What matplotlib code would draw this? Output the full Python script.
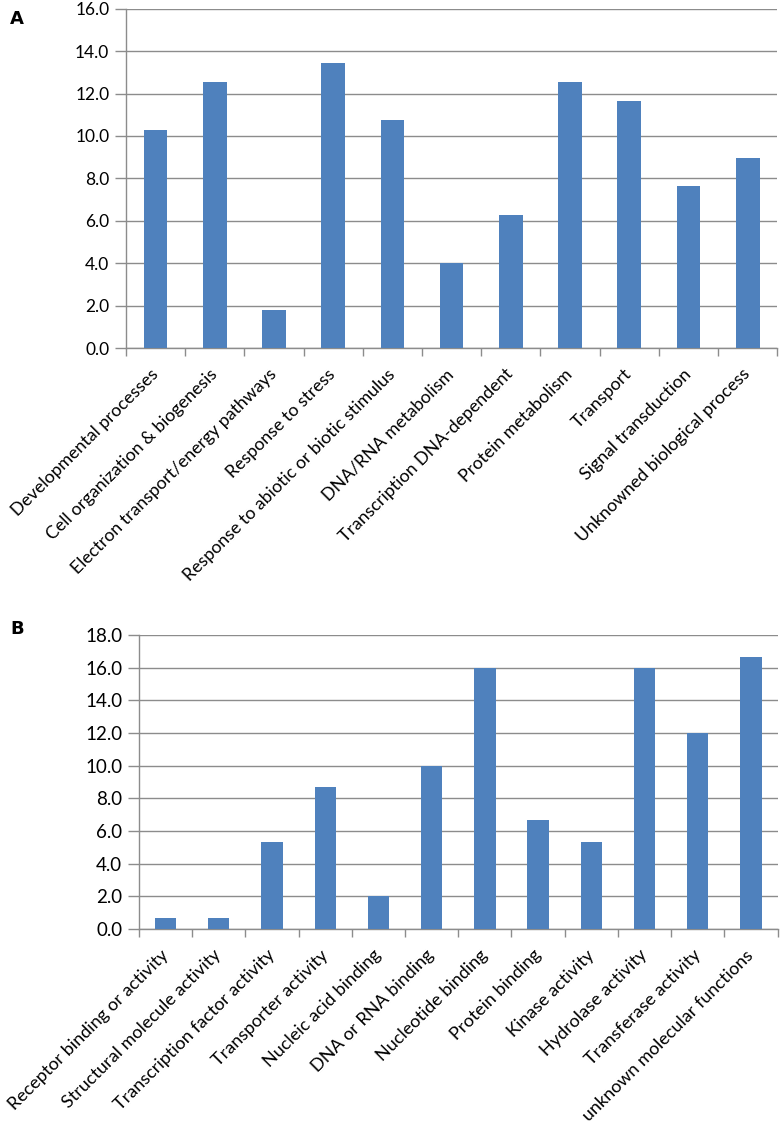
import numpy as np
import matplotlib.pyplot as plt

plt.rcParams['font.family'] = ['Lato', 'DejaVu Sans']

# panel A: biological process
bp_labels = ['Developmental processes', 'Cell organization & biogenesis',
             'Electron transport/energy pathways', 'Response to stress',
             'Response to abiotic or biotic stimulus', 'DNA/RNA metabolism',
             'Transcription DNA-dependent', 'Protein metabolism', 'Transport',
             'Signal transduction', 'Unknowned biological process']
bp_values = [10.3, 12.55, 1.8, 13.45, 10.75, 4.0, 6.27, 12.55, 11.65, 7.63, 8.97]

# panel B: molecular function
mf_labels = ['Receptor binding or activity', 'Structural molecule activity',
             'Transcription factor activity', 'Transporter activity',
             'Nucleic acid binding', 'DNA or RNA binding', 'Nucleotide binding',
             'Protein binding', 'Kinase activity', 'Hydrolase activity',
             'Transferase activity', 'unknown molecular functions']
mf_values = [0.67, 0.67, 5.33, 8.67, 2.0, 10.0, 16.0, 6.67, 5.33, 16.0, 12.0, 16.67]

bar_color = '#4F81BD'
grid_color = '#8C8C8C'


def draw_panel(ax, labels, values, ymax, ysize, xsize):
    n = len(values)
    x = np.arange(n)
    ax.bar(x, values, width=0.4, color=bar_color, zorder=3)
    ax.set_xlim(-0.5, n - 0.5)
    ax.set_ylim(0, ymax)
    yt = np.arange(0, ymax + 0.1, 2)
    ax.set_yticks(yt)
    ax.set_yticklabels([f'{v:.1f}' for v in yt], fontsize=ysize)
    ax.set_xticks(x)
    ax.set_xticklabels(labels, rotation=45, ha='right', va='center',
                       rotation_mode='anchor', fontsize=xsize)
    ax.set_xticks(np.arange(-0.5, n), minor=True)
    ax.tick_params(axis='x', which='major', length=0, pad=17)
    ax.tick_params(axis='x', which='minor', length=6, color=grid_color, width=1)
    ax.tick_params(axis='y', length=8, color=grid_color, width=1, pad=4)
    ax.yaxis.grid(True, color=grid_color, linewidth=1, zorder=0)
    for s in ['top', 'right']:
        ax.spines[s].set_visible(False)
    for s in ['left', 'bottom']:
        ax.spines[s].set_color(grid_color)
        ax.spines[s].set_linewidth(1)
    ax.set_axisbelow(True)


fig = plt.figure(figsize=(7.8, 11.31), dpi=100)
ax1 = fig.add_axes([0.1615, 0.6923, 0.835, 0.3])
ax2 = fig.add_axes([0.178, 0.1786, 0.819, 0.26])

draw_panel(ax1, bp_labels, bp_values, 16, 12.5, 12.8)
draw_panel(ax2, mf_labels, mf_values, 18, 13.5, 13)

fig.text(0.013, 0.991, 'A', fontsize=13, fontweight='bold', va='top', family='DejaVu Sans')
fig.text(0.013, 0.452, 'B', fontsize=13, fontweight='bold', va='top', family='DejaVu Sans')

fig.savefig('out.png', dpi=100)
